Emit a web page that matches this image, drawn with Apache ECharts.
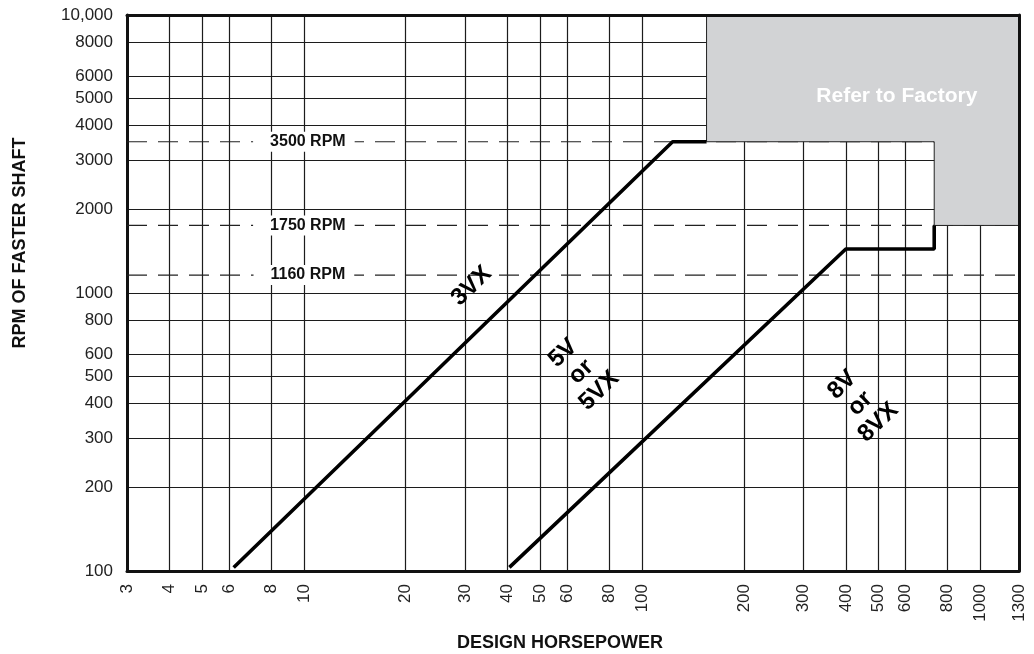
<!DOCTYPE html>
<html><head><meta charset="utf-8">
<script src="https://cdn.jsdelivr.net/npm/echarts@6/dist/echarts.min.js"></script>
<style>html,body{margin:0;padding:0;background:#fff}#c{width:1034px;height:654px}</style>
</head><body><div id="c"></div>
<script>
// ---- data ----
const xTicks = [3, 4, 5, 6, 8, 10, 20, 30, 40, 50, 60, 80, 100, 200, 300, 400, 500, 600, 800, 1000, 1300];
const yTicks = [100, 200, 300, 400, 500, 600, 800, 1000, 2000, 3000, 4000, 5000, 6000, 8000, 10000];
const line3VX = [[6.2, 103], [123, 3500], [155, 3500]];
const line5V = [[40.5, 103], [400, 1440], [730, 1440], [730, 1750]];
const factoryZone = [[155, 10000], [155, 3500], [730, 3500], [730, 1750], [1300, 1750], [1300, 10000]];
const rpmLevels = [3500, 1750, 1160];
const rpmLabels = ['3500 RPM', '1750 RPM', '1160 RPM'];
const beltLabels = ['3VX', '5V\nor\n5VX', '8V\nor\n8VX'];
const zoneText = 'Refer to Factory';

const FONT = '"Liberation Sans", Arial, Helvetica, sans-serif';
const GRID = '#1c1c1c';
const BORDER = '#111';

const chart = echarts.init(document.getElementById('c'));
function fmtY(v) { return Math.round(v) >= 10000 ? '10,000' : String(Math.round(v)); }

const borderAxisCommon = {
  axisLine: { show: true, onZero: false, lineStyle: { color: BORDER, width: 3 } },
  axisTick: { show: false }, axisLabel: { show: false }, splitLine: { show: false }, z: 6
};

// annotation anchors (data coordinates) for the text labels
const annotations = [
  { at: [31.3, 1060], text: beltLabels[0], rot: 44, color: '#000', size: 24 },
  { at: [66, 520], text: beltLabels[1], rot: 44, color: '#000', size: 24 },
  { at: [441, 400], text: beltLabels[2], rot: 44, color: '#000', size: 24 },
  { at: [566, 5100], text: zoneText, rot: 0, color: '#fff', size: 21 }
];

const option = {
  animation: false,
  grid: { left: 127, right: 15, top: 15, bottom: 83 },
  xAxis: [
    {
      type: 'log', logBase: 10, min: 3, max: 1300, position: 'bottom',
      axisLine: { show: true, onZero: false, lineStyle: { color: BORDER, width: 3 } },
      axisTick: { show: false, customValues: xTicks },
      axisLabel: { customValues: xTicks, rotate: 90, margin: 13, fontSize: 17, color: '#222',
        fontFamily: FONT, showMinLabel: true, showMaxLabel: true,
        formatter: v => String(Math.round(v)) },
      splitLine: { show: true, lineStyle: { color: GRID, width: 1.2 } },
      minorSplitLine: { show: false }
    },
    Object.assign({ type: 'log', logBase: 10, min: 3, max: 1300, position: 'top' }, borderAxisCommon)
  ],
  yAxis: [
    {
      type: 'log', logBase: 10, min: 100, max: 10000, position: 'left',
      axisLine: { show: true, onZero: false, lineStyle: { color: BORDER, width: 3 } },
      axisTick: { show: false, customValues: yTicks },
      axisLabel: { customValues: yTicks, margin: 14, fontSize: 17, color: '#222', fontFamily: FONT,
        showMinLabel: true, showMaxLabel: true, formatter: fmtY },
      splitLine: { show: true, lineStyle: { color: GRID, width: 1.2 } },
      minorSplitLine: { show: false }
    },
    Object.assign({ type: 'log', logBase: 10, min: 100, max: 10000, position: 'right' }, borderAxisCommon)
  ],
  graphic: [
    { type: 'text', x: 20, y: 243, rotation: Math.PI / 2, z: 10,
      style: { text: 'RPM OF FASTER SHAFT', fontSize: 18, fontWeight: 'bold', fontFamily: FONT,
        fill: '#111', align: 'center', verticalAlign: 'middle' } },
    { type: 'text', x: 560, y: 643, z: 10,
      style: { text: 'DESIGN HORSEPOWER', fontSize: 18, fontWeight: 'bold', fontFamily: FONT,
        fill: '#111', align: 'center', verticalAlign: 'middle' } }
  ],
  series: [
    ...rpmLevels.map(v => ({
      type: 'line', z: 2, silent: true, symbol: 'none',
      data: [[3, v], [1300, v]],
      lineStyle: { color: '#222', width: 1.2, type: [20, 11] }
    })),
    {
      type: 'custom', z: 3, silent: true,
      data: [factoryZone[0]],
      renderItem: function (params, api) {
        const pts = factoryZone.map(p => api.coord(p));
        return { type: 'polygon', shape: { points: pts },
          style: { fill: '#d2d3d5', stroke: '#222', lineWidth: 1 } };
      }
    },
    { type: 'line', z: 4, silent: true, symbol: 'none', data: line3VX,
      lineStyle: { color: '#000', width: 3.6 } },
    { type: 'line', z: 4, silent: true, symbol: 'none', data: line5V,
      lineStyle: { color: '#000', width: 3.6 } },
    {
      type: 'custom', z: 5, silent: true,
      data: rpmLevels.map(v => [10, v]),
      renderItem: function (params, api) {
        const p = api.coord([api.value(0), api.value(1)]);
        return { type: 'text', x: p[0], y: p[1],
          style: { text: rpmLabels[params.dataIndex], fontFamily: FONT, fontWeight: 'bold', fontSize: 16,
            fill: '#111', align: 'center', verticalAlign: 'middle',
            backgroundColor: '#fff', padding: [2, 9, 2, 17] } };
      }
    },
    {
      type: 'custom', z: 5, silent: true,
      data: annotations.map(a => a.at),
      renderItem: function (params, api) {
        const a = annotations[params.dataIndex];
        const p = api.coord([api.value(0), api.value(1)]);
        return { type: 'text', x: p[0], y: p[1], rotation: a.rot * Math.PI / 180,
          style: { text: a.text, fontFamily: FONT, fontWeight: 'bold', fontSize: a.size, lineHeight: 26,
            fill: a.color, align: 'center', verticalAlign: 'middle' } };
      }
    }
  ]
};
chart.setOption(option);
</script>
</body></html>
